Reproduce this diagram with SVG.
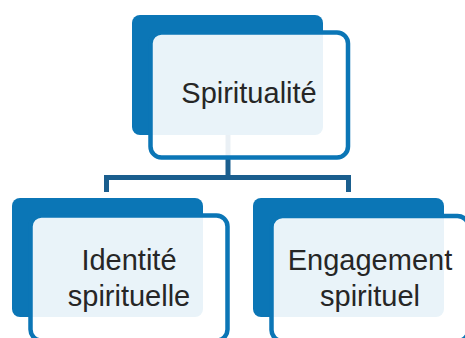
<svg xmlns="http://www.w3.org/2000/svg" width="465" height="338" viewBox="0 0 465 338">
<style>
.back{fill:#0b76b6}
.front{fill:#ffffff;fill-opacity:0.91;stroke:#0b76b6;stroke-width:4.5}
.conn{fill:none;stroke:#1a5e8e;stroke-width:5}
text{font-family:"Liberation Sans",Arial,sans-serif;font-size:29px;fill:#262626;text-anchor:middle}
</style>
<rect width="465" height="338" fill="#ffffff"/>
<g id="connectors">
<path class="conn" d="M106.5,192 V177.5 H348.5 V192"/>
<path class="conn" d="M228,135 V177.5"/>
</g>
<g id="node-spiritualite">
<rect class="back" x="132" y="15" width="191" height="120" rx="8"/>
<rect class="front" x="150.5" y="32.5" width="197.5" height="125" rx="11"/>
<text x="249" y="103">Spiritualité</text>
</g>
<g id="node-identite">
<rect class="back" x="12" y="198" width="191" height="119" rx="8"/>
<rect class="front" x="30.5" y="215.5" width="197" height="125" rx="11"/>
<text x="129" y="270">Identité</text>
<text x="129" y="306">spirituelle</text>
</g>
<g id="node-engagement">
<rect class="back" x="253" y="198" width="191" height="119" rx="8"/>
<rect class="front" x="271.5" y="216" width="197" height="125" rx="11"/>
<text x="370" y="270">Engagement</text>
<text x="370" y="306">spirituel</text>
</g>
</svg>
